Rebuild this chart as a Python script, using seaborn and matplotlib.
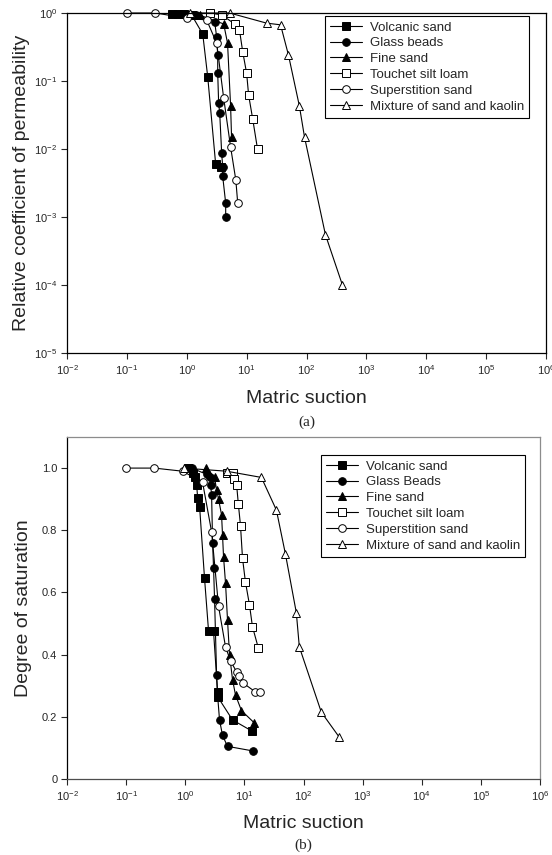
import numpy as np
import pandas as pd
import matplotlib
matplotlib.use("Agg")
import matplotlib.pyplot as plt
import seaborn as sns

# ---- data ----
# (a) relative coefficient of permeability vs matric suction
volc_k_s = [0.56, 0.71, 0.89, 1.21, 1.85, 2.24, 3.04, 3.69]
volc_k = [0.97, 0.97, 0.97, 0.93, 0.49, 0.115, 0.006, 0.0055]
glass_k_s = [1.41, 2.93, 3.16, 3.29, 3.29, 3.41, 3.55, 3.83, 3.98, 3.98, 4.47, 4.47]
glass_k = [0.93, 0.74, 0.44, 0.24, 0.13, 0.047, 0.034, 0.0087, 0.0055, 0.004, 0.0016, 0.001]
fine_k_s = [1.65, 4.14, 4.8, 5.4, 5.6]
fine_k = [0.93, 0.69, 0.36, 0.043, 0.015]
touch_k_s = [2.4, 3.83, 6.3, 7.6, 8.6, 10.0, 10.8, 12.6, 15.2]
touch_k = [1.0, 0.94, 0.69, 0.56, 0.27, 0.13, 0.062, 0.028, 0.01]
super_k_s = [0.1, 0.3, 1.0, 2.15, 3.16, 4.14, 5.4, 6.6, 7.1]
super_k = [1.0, 1.0, 0.84, 0.79, 0.36, 0.056, 0.0107, 0.0035, 0.0016]
mix_k_s = [1.12, 5.2, 21.5, 36.9, 50, 76, 92.6, 207, 398]
mix_k = [1.0, 1.0, 0.71, 0.67, 0.24, 0.043, 0.015, 0.00055, 0.0001]

# (b) degree of saturation vs matric suction
volc_sr_s = [1.10, 1.33, 1.44, 1.56, 1.62, 1.75, 2.12, 2.48, 3.01, 3.52, 3.52, 6.3, 13.2]
volc_sr = [1.0, 0.985, 0.97, 0.945, 0.905, 0.875, 0.645, 0.475, 0.475, 0.28, 0.265, 0.19, 0.155]
glass_sr_s = [1.28, 2.30, 2.58, 2.68, 2.79, 2.90, 3.01, 3.13, 3.39, 3.52, 3.80, 4.27, 5.19, 14.2]
glass_sr = [1.0, 0.98, 0.97, 0.945, 0.915, 0.76, 0.68, 0.58, 0.335, 0.27, 0.19, 0.14, 0.105, 0.09]
fine_sr_s = [2.21, 3.13, 3.39, 3.66, 4.11, 4.27, 4.44, 4.80, 5.19, 5.61, 6.30, 7.08, 8.93, 14.8]
fine_sr = [1.0, 0.97, 0.93, 0.9, 0.85, 0.785, 0.715, 0.63, 0.51, 0.4, 0.32, 0.27, 0.22, 0.18]
touch_sr_s = [5.0, 6.3, 6.8, 7.4, 7.9, 8.6, 9.3, 10.4, 12.2, 13.7, 17.3]
touch_sr = [0.985, 0.985, 0.965, 0.945, 0.885, 0.815, 0.71, 0.635, 0.56, 0.49, 0.42]
super_sr_s = [0.1, 0.3, 0.9, 1.96, 2.79, 3.66, 4.80, 5.83, 7.36, 8.26, 9.3, 15.4, 18.6]
super_sr = [1.0, 1.0, 0.99, 0.955, 0.795, 0.555, 0.425, 0.38, 0.345, 0.33, 0.31, 0.28, 0.28]
mix_sr_s = [0.94, 4.99, 19.4, 34.8, 49.3, 75.6, 85, 200, 401]
mix_sr = [1.0, 0.99, 0.97, 0.865, 0.725, 0.535, 0.425, 0.215, 0.135]

names_a = ["Volcanic sand", "Glass beads", "Fine sand", "Touchet silt loam",
           "Superstition sand", "Mixture of sand and kaolin"]
names_b = ["Volcanic sand", "Glass Beads", "Fine sand", "Touchet silt loam",
           "Superstition sand", "Mixture of sand and kaolin"]
markers = ["s", "o", "^", "s", "o", "^"]
faces = ["black", "black", "black", "white", "white", "white"]

series_a = [(volc_k_s, volc_k), (glass_k_s, glass_k), (fine_k_s, fine_k),
            (touch_k_s, touch_k), (super_k_s, super_k), (mix_k_s, mix_k)]
series_b = [(volc_sr_s, volc_sr), (glass_sr_s, glass_sr), (fine_sr_s, fine_sr),
            (touch_sr_s, touch_sr), (super_sr_s, super_sr), (mix_sr_s, mix_sr)]

sns.set_style("ticks")
plt.rcParams["font.family"] = ["Liberation Sans", "DejaVu Sans"]
plt.rcParams["mathtext.fontset"] = "custom"
plt.rcParams["mathtext.rm"] = "Liberation Sans"

fig = plt.figure(figsize=(5.52, 8.55), dpi=100)
ax1 = fig.add_axes([67 / 552, 1 - 353 / 855, 479 / 552, 340 / 855])
ax2 = fig.add_axes([67 / 552, 1 - 779 / 855, 473 / 552, 342 / 855])


def draw(ax, series, names):
    for (xs, ys), name, m, fc in zip(series, names, markers, faces):
        df = pd.DataFrame({"s": xs, "v": ys})
        sns.lineplot(data=df, x="s", y="v", ax=ax, sort=False, estimator=None,
                     color="black", lw=0.8, marker=m, markersize=5.5 if m != "^" else 6,
                     markerfacecolor=fc, markeredgecolor="black", markeredgewidth=0.7,
                     label=name, clip_on=False)


draw(ax1, series_a, names_a)
draw(ax2, series_b, names_b)

for ax in (ax1, ax2):
    ax.set_xscale("log")
    ax.set_xlim(1e-2, 1e6)
    ax.set_xticks([10.0 ** k for k in range(-2, 7)])
    ax.minorticks_off()
    ax.tick_params(axis="both", direction="out", length=4, width=0.8, labelsize=8, pad=3)
    for sp in ax.spines.values():
        sp.set_linewidth(0.9)
        sp.set_color("black")

ax1.set_xlabel("Matric suction", fontsize=14, labelpad=10)
ax2.set_xlabel("Matric suction", fontsize=14, labelpad=9)

ax1.set_yscale("log")
ax1.set_ylim(1e-5, 1)
ax1.set_yticks([10.0 ** k for k in range(-5, 1)])
ax1.minorticks_off()
ax1.set_ylabel("Relative coefficient of permeability", fontsize=14, labelpad=3)

ax2.set_ylim(0, 1.1)
ax2.set_yticks([0, 0.2, 0.4, 0.6, 0.8, 1.0])
ax2.set_yticklabels(["0", "0.2", "0.4", "0.6", "0.8", "1.0"])
ax2.set_ylabel("Degree of saturation", fontsize=14, labelpad=7)
ax2.spines["top"].set_color("0.55")
ax2.spines["right"].set_color("0.55")
ax2.spines["bottom"].set_color("0.3")

leg_kw = dict(loc="upper left", fontsize=9.5, frameon=True, fancybox=False,
              edgecolor="black", framealpha=1, borderaxespad=0, handlelength=2.4,
              handletextpad=0.6, labelspacing=0.27, borderpad=0.4)
l1 = ax1.legend(bbox_to_anchor=((325 - 67) / 479, (353 - 16) / 340), **leg_kw)
l2 = ax2.legend(bbox_to_anchor=((321 - 67) / 473, (779 - 455) / 342), **leg_kw)
for lg in (l1, l2):
    lg.get_frame().set_linewidth(0.8)

fig.text(307 / 552, 1 - 422 / 855, "(a)", ha="center", va="center",
         fontsize=11, family="Liberation Serif")
fig.text(303 / 552, 1 - 845 / 855, "(b)", ha="center", va="center",
         fontsize=11, family="Liberation Serif")

fig.savefig("out.png", dpi=100)
